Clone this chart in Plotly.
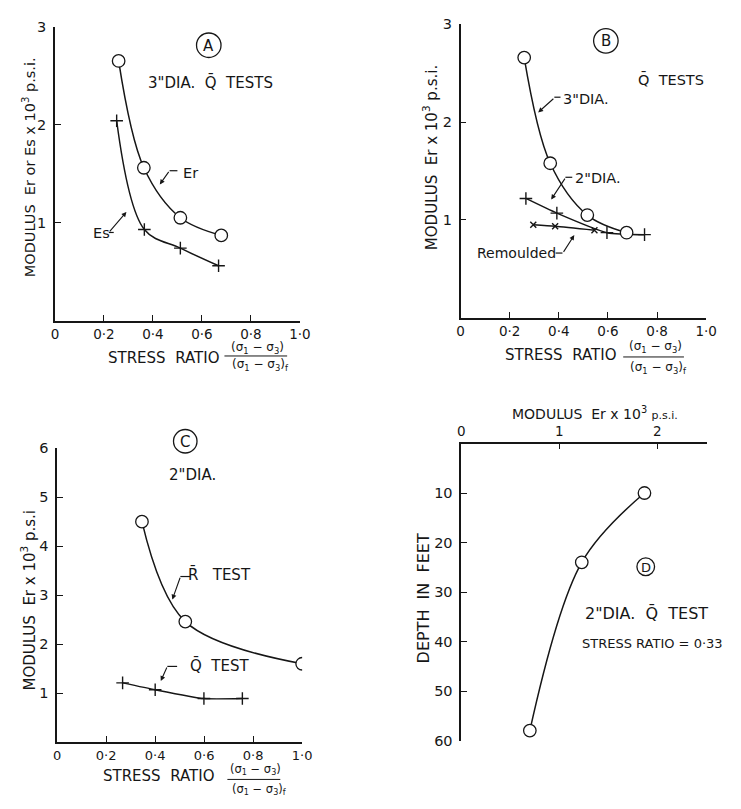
import plotly.graph_objects as go

W, H = 741, 809
INK = "#161616"
FONT = "DejaVu Sans"

# ---------------- data ----------------
# Panel A : 3" dia. Q tests
a_x_er = [0.26, 0.363, 0.512, 0.679]
a_y_er = [2.65, 1.56, 1.05, 0.87]
a_x_es = [0.252, 0.365, 0.512, 0.668]
a_y_es = [2.04, 0.93, 0.74, 0.56]
# Panel B : Q tests
b_x_3dia = [0.259, 0.365, 0.516, 0.676]
b_y_3dia = [2.66, 1.58, 1.05, 0.87]
b_x_2dia = [0.266, 0.392, 0.596, 0.749]
b_y_2dia = [1.22, 1.07, 0.87, 0.85]
b_x_rem = [0.296, 0.385, 0.545]
b_y_rem = [0.95, 0.935, 0.895]
# Panel C : 2" dia.
c_x_r = [0.346, 0.523, 1.0]
c_y_r = [4.5, 2.46, 1.6]
c_x_q = [0.267, 0.4, 0.599, 0.756]
c_y_q = [1.21, 1.07, 0.89, 0.89]
# Panel D : depth profile
d_er = [1.87, 1.23, 0.70]
d_depth = [10, 24, 58]

ratio_ticks = [0, 0.2, 0.4, 0.6, 0.8, 1.0]
ratio_labels = ["0", "0·2", "0·4", "0·6", "0·8", "1·0"]


def px(x, y):
    return x / W, 1 - y / H


def dom_x(a, b):
    return [a / W, b / W]


def dom_y(top, bottom):
    return [1 - bottom / H, 1 - top / H]


fig = go.Figure()

circ = dict(symbol="circle", size=12.5, color="white", line=dict(color=INK, width=1.3))
plus = dict(symbol="cross-thin", size=9, line=dict(color=INK, width=1.4))
xmk = dict(symbol="x-thin", size=6, line=dict(color=INK, width=1.4))


def add(x, y, marker, xa, ya, smoothing=1.0):
    fig.add_trace(go.Scatter(x=x, y=y, mode="lines+markers",
                             line=dict(color=INK, width=1.5, shape="spline", smoothing=smoothing),
                             marker=marker, xaxis=xa, yaxis=ya, showlegend=False,
                             hoverinfo="skip"))


add(a_x_es, a_y_es, plus, "x", "y")
add(a_x_er, a_y_er, circ, "x", "y")
add(b_x_rem, b_y_rem, xmk, "x2", "y2", 0.6)
add(b_x_2dia, b_y_2dia, plus, "x2", "y2", 0.6)
add(b_x_3dia, b_y_3dia, circ, "x2", "y2")
add(c_x_q, c_y_q, plus, "x3", "y3", 0.5)
add(c_x_r, c_y_r, circ, "x3", "y3")
add(d_er, d_depth, circ, "x4", "y4")

axis_common = dict(showgrid=False, zeroline=False, showline=True, linecolor=INK, linewidth=1.5,
                   ticks="inside", ticklen=6, tickwidth=1.2, tickcolor=INK,
                   tickfont=dict(family=FONT, size=13.5, color=INK), fixedrange=True)
yfont = dict(family=FONT, size=14.5, color=INK)

fig.update_layout(
    width=W, height=H, margin=dict(l=0, r=0, t=0, b=0),
    paper_bgcolor="white", plot_bgcolor="white",
    font=dict(family=FONT, color=INK),
    xaxis=dict(axis_common, domain=dom_x(52, 302), range=[0, 1.0], anchor="y",
               tickvals=ratio_ticks, ticktext=ratio_labels),
    yaxis=dict(axis_common, domain=dom_y(19, 319), range=[0, 3], anchor="x",
               tickvals=[1, 2, 3], ticktext=["1", "2", "3"], ticklabelstandoff=4,
               tickfont=yfont),
    xaxis2=dict(axis_common, domain=dom_x(466, 716.7), range=[0, 1.0], anchor="y2",
                tickvals=ratio_ticks, ticktext=ratio_labels),
    yaxis2=dict(axis_common, domain=dom_y(16.7, 316), range=[0, 3], anchor="x2",
                tickvals=[1, 2, 3], ticktext=["1", "2", "3"], ticklabelstandoff=4,
                tickfont=yfont),
    xaxis3=dict(axis_common, domain=dom_x(54.3, 304.3), range=[0, 1.0], anchor="y3",
                tickvals=ratio_ticks, ticktext=ratio_labels,
                tickfont=dict(family=FONT, size=13, color=INK)),
    yaxis3=dict(axis_common, domain=dom_y(449, 749), range=[0, 6], anchor="x3",
                tickvals=[1, 2, 3, 4, 5, 6], ticktext=["1", "2", "3", "4", "5", "6"],
                ticklabelstandoff=4, tickfont=yfont),
    xaxis4=dict(axis_common, domain=dom_x(466.7, 717.7), range=[0, 2.51], anchor="y4",
                side="top", tickvals=[0, 1, 2], ticktext=["0", "1", "2"],
                tickfont=dict(family=FONT, size=13.5, color=INK)),
    yaxis4=dict(axis_common, domain=dom_y(444.3, 747.3), range=[60, 0], anchor="x4",
                tickvals=[10, 20, 30, 40, 50, 60],
                ticktext=["10", "20", "30", "40", "50", "60"], ticklabelstandoff=4,
                tickfont=yfont),
)

ann = []
shapes = []


def text(x, y, s, size=13, angle=0, xanchor="center"):
    X, Y = px(x, y)
    ann.append(dict(x=X, y=Y, xref="paper", yref="paper", text=s, showarrow=False,
                    textangle=angle, xanchor=xanchor, yanchor="middle",
                    font=dict(family=FONT, size=size, color=INK)))


def line_px(x0, y0, x1, y1, w=1.2):
    X0, Y0 = px(x0, y0)
    X1, Y1 = px(x1, y1)
    shapes.append(dict(type="line", xref="paper", yref="paper", x0=X0, y0=Y0, x1=X1, y1=Y1,
                       line=dict(color=INK, width=w)))


def circle_letter(cx, cy, r, letter, size=14):
    X0, Y0 = px(cx - r, cy + r)
    X1, Y1 = px(cx + r, cy - r)
    shapes.append(dict(type="circle", xref="paper", yref="paper", x0=X0, y0=Y0, x1=X1, y1=Y1,
                       line=dict(color=INK, width=1.3)))
    text(cx, cy + 0.5, letter, size=size)


def leader(label, tx, ty, dash_x0, dash_x1, dy, tip_xy, tip_px, xa, ya, size=14.5):
    # label text, short dash, then diagonal arrow to the curve
    text(tx, ty, label, size=size, xanchor="left")
    line_px(dash_x0, dy, dash_x1, dy)
    ann.append(dict(x=tip_xy[0], y=tip_xy[1], xref=xa, yref=ya, text="", showarrow=True,
                    axref="pixel", ayref="pixel",
                    ax=dash_x0 - tip_px[0], ay=dy - tip_px[1],
                    arrowhead=2, arrowsize=0.9, arrowwidth=1.1, arrowcolor=INK, standoff=0))


def stress_title(sx, y, fx, fw, num_y, den_y, bar_y, fsize=12):
    text(sx, y, "STRESS  RATIO", size=15, xanchor="left")
    text(fx + fw / 2, num_y, "(σ<sub>1</sub> − σ<sub>3</sub>)", size=fsize)
    text(fx + fw / 2 + 3, den_y, "(σ<sub>1</sub> − σ<sub>3</sub>)<sub>f</sub>", size=fsize)
    line_px(fx, bar_y, fx + fw - 4, bar_y, w=1.0)


# ---- Panel A ----
circle_letter(209, 38, 12.5, "A", size=15)
text(211, 76, "3\"DIA.  Q̄  TESTS", size=15)
text(25, 162, "MODULUS  Er or Es x 10<sup>3</sup> p.s.i.", size=14.5, angle=-90)
stress_title(104, 357, 225, 68, 347, 364, 355)
leader("Er", 181, 168, 169, 177, 166, (0.428, 1.39), (159, 180), "x", "y")
leader("Es", 89, 230, 107, 112, 229, (0.292, 1.11), (125, 208), "x", "y")

# ---- Panel B ----
circle_letter(614.3, 33.5, 12.5, "B", size=15)
text(681, 73, "Q̄  TESTS", size=14.5)
text(435, 153, "MODULUS  Er x 10<sup>3</sup> p.s.i.", size=15, angle=-90)
stress_title(509, 354, 632, 66, 346, 367, 356)
leader("3\"DIA.", 568, 93, 561.7, 568, 91, (0.316, 2.10), (545, 106), "x2", "y2")
leader("2\"DIA.", 581, 173, 573, 580, 172.7, (0.369, 1.21), (558.3, 195), "x2", "y2")
leader("Remoulded", 481, 250, 570, 563, 250, (0.463, 0.845), (581.7, 231.7), "x2", "y2",
       size=14)

# ---- Panel C ----
circle_letter(185, 442, 12, "C", size=15)
text(192.5, 476, "2\"DIA.", size=15)
text(25, 604, "MODULUS  Er x 10<sup>3</sup> p.s.i", size=15, angle=-90)
stress_title(99, 784, 228, 58, 777, 797, 787, fsize=11.5)
leader("R̄   TEST", 186, 578, 180, 190, 580, (0.47, 2.91), (171.7, 603.3), "x3", "y3", size=15)
leader("Q̄  TEST", 188, 671, 166.7, 176.7, 671.7, (0.423, 1.25), (160, 686.7), "x3", "y3",
       size=15)

# ---- Panel D ----
circle_letter(655, 570, 9, "D", size=13)
text(603, 413, "MODULUS  Er x 10<sup>3</sup> <span style='font-size:11px'>p.s.i.</span>", size=14)
text(428, 602, "DEPTH  IN  FEET", size=16, angle=-90)
text(656, 618, "2\"DIA.  Q̄  TEST", size=16)
text(662, 648, "STRESS RATIO = 0·33", size=13)

fig.update_layout(annotations=ann, shapes=shapes)
fig.write_html("out.html", config={"displayModeBar": False},
               post_script="document.body.style.margin='0';document.body.style.overflow='hidden';")
